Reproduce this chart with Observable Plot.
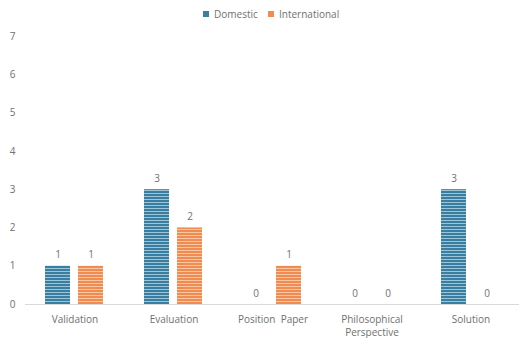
<!DOCTYPE html>
<html>
<head>
<meta charset="utf-8">
<script src="https://cdn.jsdelivr.net/npm/d3@7"></script>
<script src="https://cdn.jsdelivr.net/npm/@observablehq/plot@0.6"></script>
<style>
  html, body { margin: 0; padding: 0; background: #fff; overflow: hidden; }
  body { width: 519px; height: 338px; font-family: "Open Sans", sans-serif; color: #707070; }
  #legend { position: relative; height: 26px; font-size: 10px; }
  .item { position: absolute; top: 7px; display: flex; align-items: center; white-space: nowrap; }
  .sw { width: 6px; height: 6px; margin-right: 5px; }
</style>
</head>
<body>
<div id="legend"></div>
<div id="chart"></div>
<script>
const categories = ["Validation", "Evaluation", "Position Paper", "Philosophical Perspective", "Solution"];
const tickLabels = ["Validation", "Evaluation", "Position  Paper", "Philosophical\nPerspective", "Solution"];
const series = ["Domestic", "International"];
const domestic = [1, 3, 0, 0, 3];
const international = [1, 2, 1, 0, 0];
const yTicks = [0, 1, 2, 3, 4, 5, 6, 7];

const seriesColors = ["#3a7fa1", "#f08c52"];
const stripeColors = ["#9cc5d8", "#f9c6a3"];
const textColor = "#707070";

const values = [domestic, international];
const data = categories.flatMap((c, i) => series.map((s, j) => ({category: c, series: s, value: values[j][i]})));

// legend
const legend = document.getElementById("legend");
const legendX = [203, 268];
series.forEach((s, j) => {
  const it = document.createElement("div");
  it.className = "item";
  it.style.left = legendX[j] + "px";
  it.innerHTML = `<span class="sw" style="background:${seriesColors[j]}"></span><span>${s}</span>`;
  legend.appendChild(it);
});

const chart = Plot.plot({
  width: 519,
  height: 312,
  marginLeft: 23,
  marginRight: -2,
  marginTop: 10,
  marginBottom: 34,
  style: {fontFamily: "Open Sans", fontSize: "10px", color: textColor, background: "#fff"},
  fx: {domain: categories, padding: 0, label: null},
  x: {domain: series, paddingInner: 0.24, paddingOuter: 0.62, axis: null},
  y: {domain: [0, 7], label: null},
  color: {domain: series, range: ["url(#pD)", "url(#pI)"]},
  marks: [
    Plot.axisY({ticks: yTicks, tickFormat: d3.format("d"), tickSize: 0, tickPadding: 10, label: null, fill: textColor}),
    Plot.axisFx({anchor: "bottom", tickSize: 0, tickPadding: 9, label: null, lineHeight: 1.3, fill: textColor,
      tickFormat: d => tickLabels[categories.indexOf(d)]}),
    Plot.barY(data, {fx: "category", x: "series", y: "value", fill: "series"}),
    Plot.ruleY([0], {stroke: "#d9d9d9", strokeWidth: 1}),
    Plot.text(data, {fx: "category", x: "series", y: "value", text: d => String(d.value), dy: -11, fill: textColor, fontSize: 10})
  ]
});

// striped patterns
const ns = "http://www.w3.org/2000/svg";
const defs = document.createElementNS(ns, "defs");
["pD", "pI"].forEach((id, j) => {
  const p = document.createElementNS(ns, "pattern");
  p.setAttribute("id", id);
  p.setAttribute("patternUnits", "userSpaceOnUse");
  p.setAttribute("width", "4");
  p.setAttribute("height", "3");
  const r1 = document.createElementNS(ns, "rect");
  r1.setAttribute("width", "4"); r1.setAttribute("height", "3"); r1.setAttribute("fill", seriesColors[j]);
  const r2 = document.createElementNS(ns, "rect");
  r2.setAttribute("y", "2"); r2.setAttribute("width", "4"); r2.setAttribute("height", "1"); r2.setAttribute("fill", stripeColors[j]);
  p.appendChild(r1); p.appendChild(r2);
  defs.appendChild(p);
});
chart.insertBefore(defs, chart.firstChild);
document.getElementById("chart").appendChild(chart);
</script>
</body>
</html>
